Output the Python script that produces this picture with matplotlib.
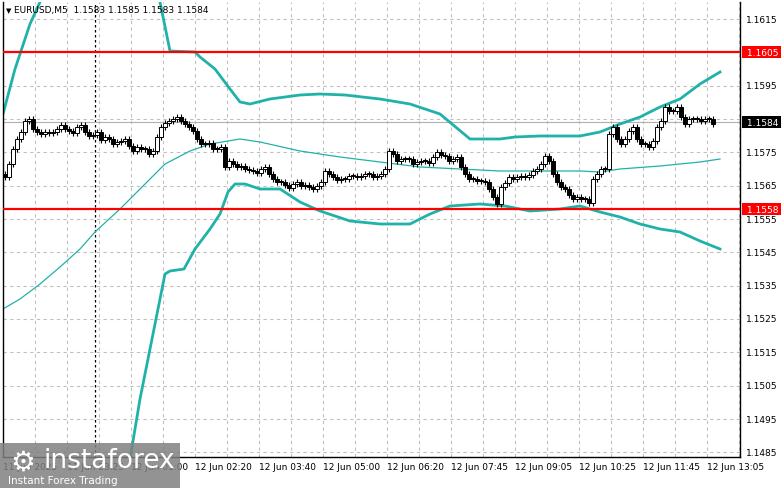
import matplotlib
matplotlib.use('Agg')
import matplotlib.pyplot as plt
from matplotlib.patches import Rectangle
import numpy as np

# --- Data ---
closes = [1.15676, 1.15715, 1.1576, 1.1579, 1.15811, 1.15844, 1.1585, 1.1582, 1.15811, 1.15805,
          1.15811, 1.15808, 1.15811, 1.1582, 1.15832, 1.1582, 1.15814, 1.15808, 1.15826, 1.15832,
          1.15811, 1.15799, 1.15802, 1.15811, 1.15787, 1.15796, 1.1579, 1.15775, 1.15781, 1.15784,
          1.1579, 1.15769, 1.15754, 1.15766, 1.1576, 1.1576, 1.15745, 1.15754, 1.15796, 1.15826,
          1.15838, 1.15844, 1.1585, 1.15856, 1.15844, 1.15835, 1.15826, 1.15814, 1.1579, 1.15775,
          1.15775, 1.15778, 1.1576, 1.1576, 1.15766, 1.15706, 1.15724, 1.15715, 1.15706, 1.15709,
          1.157, 1.15697, 1.15694, 1.15688, 1.157, 1.15706, 1.15685, 1.1567, 1.15661, 1.15661,
          1.15652, 1.15643, 1.15655, 1.15661, 1.15649, 1.15652, 1.15646, 1.1564, 1.15649, 1.15661,
          1.15694, 1.15685, 1.15676, 1.15667, 1.1567, 1.1567, 1.15679, 1.15679, 1.15676, 1.15679,
          1.15685, 1.15685, 1.15676, 1.15679, 1.15685, 1.157, 1.15754, 1.15745, 1.15724, 1.1573,
          1.1573, 1.1573, 1.15715, 1.15721, 1.15724, 1.15724, 1.15718, 1.15736, 1.15751, 1.15742,
          1.15739, 1.15724, 1.1573, 1.15736, 1.15706, 1.15685, 1.1567, 1.1567, 1.15664, 1.15664,
          1.15661, 1.1564, 1.15616, 1.15595, 1.15646, 1.15658, 1.15676, 1.1567, 1.15676, 1.15679,
          1.15676, 1.15682, 1.15694, 1.157, 1.15715, 1.15739, 1.15724, 1.15685, 1.15661, 1.15646,
          1.1564, 1.15622, 1.1561, 1.15616, 1.1561, 1.1561, 1.15598, 1.1567, 1.15685, 1.157,
          1.157, 1.15805, 1.15826, 1.1579, 1.15775, 1.1579, 1.15814, 1.15826, 1.1579, 1.15775,
          1.15775, 1.15766, 1.15784, 1.15826, 1.15844, 1.15886, 1.15874, 1.15874, 1.15886, 1.15856,
          1.15835, 1.1585, 1.1585, 1.1585, 1.15844, 1.1585, 1.1585, 1.15835]

upper_idx = [-0.5, 2.5, 6.25, 8.75, 13.75, 23.75, 33.75, 38.75, 41.25, 47.5, 48.75, 52.5, 56.25,
             58.75, 61.25, 66.25, 73.75, 78.75, 85, 93.75, 101.25, 108.75, 116.25, 123.75, 127.5,
             133.75, 143.75, 148.75, 153.75, 158.75, 163.75, 168.75, 173.75, 178.75]
upper_val = [1.15865, 1.1600, 1.16135, 1.16201, 1.1630, 1.1635, 1.1632, 1.16201, 1.16054, 1.16051,
             1.16036, 1.1600, 1.1594, 1.15901, 1.15895, 1.1591, 1.15922, 1.15925, 1.15922, 1.1591,
             1.15895, 1.15865, 1.1579, 1.1579, 1.15796, 1.15799, 1.15799, 1.15811, 1.15835, 1.15856,
             1.15886, 1.1591, 1.15955, 1.15991]

mid_idx = [-0.5, 3.75, 8.75, 13.75, 18.75, 22.5, 28.75, 33.75, 40, 46.25, 51.25, 58.75, 63.75,
           73.75, 83.75, 93.75, 103.75, 113.75, 123.75, 143.75, 148.75, 153.75, 163.75, 173.75, 178.75]
mid_val = [1.1528, 1.1531, 1.15355, 1.15406, 1.1546, 1.15511, 1.1558, 1.1564, 1.15715, 1.15754,
           1.15775, 1.1579, 1.15781, 1.15754, 1.15736, 1.15721, 1.15706, 1.157, 1.15694, 1.15694,
           1.15691, 1.157, 1.15709, 1.15721, 1.1573]

lower_idx = [28.75, 31.25, 33.75, 40, 41.25, 44.75, 47.5, 51.25, 53.75, 55.75, 57.5, 60, 63.75,
             68.75, 73.75, 78.75, 86.25, 93.75, 101.25, 106.25, 111.25, 118.75, 125, 131.25,
             138.75, 143.75, 148.75, 153.75, 158.75, 163.75, 168.75, 173.75, 178.75]
lower_val = [1.1475, 1.1483, 1.1501, 1.15385, 1.15394, 1.154, 1.1546, 1.1552, 1.15565, 1.15631,
             1.15655, 1.15655, 1.1564, 1.1564, 1.15601, 1.15574, 1.15544, 1.15535, 1.15535, 1.15565,
             1.15589, 1.15595, 1.15589, 1.15574, 1.1558, 1.15589, 1.15571, 1.15556, 1.15535, 1.1552,
             1.15511, 1.15484, 1.1546]

levels = [1.1605, 1.1558]
last_price = 1.1584
y_ticks = [1.1615, 1.1595, 1.1575, 1.1565, 1.1555, 1.1545, 1.1535, 1.1525, 1.1515,
           1.1505, 1.1495, 1.1485]
x_labels = ['11 Jun 2025', '11 Jun 23:25', '12 Jun 01:00', '12 Jun 02:20', '12 Jun 03:40',
            '12 Jun 05:00', '12 Jun 06:20', '12 Jun 07:45', '12 Jun 09:05', '12 Jun 10:25',
            '12 Jun 11:45', '12 Jun 13:05']

W, H = 781, 489
fig = plt.figure(figsize=(W / 100, H / 100), dpi=100)
ax = fig.add_axes([3 / W, 1 - 458 / H, 737 / W, 455 / H])
ymin, ymax = 1.14836, 1.16201
ax.set_xlim(-0.5, 183.75)
ax.set_ylim(ymin, ymax)

# grid
for gy in np.arange(1.1485, 1.1620, 0.001):
    ax.axhline(gy, color='#c0c0c0', lw=0.8, ls=(0, (3, 3)), zorder=0)
for gx in np.arange(-0.5 + 8, 184, 8):
    ax.axvline(gx, color='#c0c0c0', lw=0.8, ls=(0, (3, 3)), zorder=0)
ax.axvline(22.5, color='black', lw=0.9, ls=(0, (2, 2)), zorder=1)

# bands
teal = '#20b2a8'
ax.plot(upper_idx, upper_val, color=teal, lw=2, zorder=2)
ax.plot(mid_idx, mid_val, color=teal, lw=0.9, zorder=2)
ax.plot(lower_idx, lower_val, color=teal, lw=2, zorder=2)

# levels
for lv in levels:
    ax.axhline(lv, color='#ff0000', lw=1.6, zorder=3)
ax.axhline(last_price, color='#b0b0b0', lw=0.8, zorder=1)

# candles
opens = [closes[0] + 0.0001] + closes[:-1]
for i, (o, c) in enumerate(zip(opens, closes)):
    hi = max(o, c) + 0.00009
    lo = min(o, c) - 0.00009
    ax.vlines(i, lo, hi, color='black', lw=0.8, zorder=4)
    bottom = min(o, c)
    height = max(abs(c - o), 0.00002)
    face = 'white' if c > o else 'black'
    ax.add_patch(Rectangle((i - 0.4, bottom), 0.8, height, facecolor=face,
                           edgecolor='black', lw=0.7, zorder=5))

ax.set_xticks([])
ax.set_yticks([])
ax.spines['top'].set_visible(False)
for s in ax.spines.values():
    s.set_color('black')
    s.set_linewidth(1)

# right axis labels
for t in y_ticks:
    ax.text(1.008, (t - ymin) / (ymax - ymin), f'{t:.4f}', transform=ax.transAxes,
            fontsize=6.5, va='center', ha='left')
for t, bg in [(1.1605, '#ff0000'), (1.1558, '#ff0000'), (last_price, 'black')]:
    ax.text(1.005, (t - ymin) / (ymax - ymin), f' {t:.4f}  ', transform=ax.transAxes,
            fontsize=6.5, va='center', ha='left', color='white',
            bbox=dict(boxstyle='square,pad=0.15', fc=bg, ec='none'))

# bottom labels
for k, lab in enumerate(x_labels):
    ax.text(-0.5 + 16 * k, ymin - 0.00028, lab, fontsize=6.5, ha='left', va='center')

ax.text(0.3, 1.16177, '\u25BC', fontsize=5, va='center')
ax.text(2.2, 1.16177, 'EURUSD,M5  1.1583 1.1585 1.1583 1.1584', fontsize=6.5, va='center')

# logo box
fig.patches.append(Rectangle((0, 0), 180 / W, 45 / H, transform=fig.transFigure,
                             facecolor='#808080', alpha=0.85, edgecolor='none', zorder=10))
fig.text(10 / W, 26 / H, '\u2699', fontsize=20, color='white', va='center', zorder=11)
fig.text(44 / W, 28 / H, 'instaforex', fontsize=19, color='white', va='center', zorder=11)
fig.text(8 / W, 8 / H, 'Instant Forex Trading', fontsize=7.5, color='white', va='center', zorder=11)

fig.savefig('out.png', dpi=100)
